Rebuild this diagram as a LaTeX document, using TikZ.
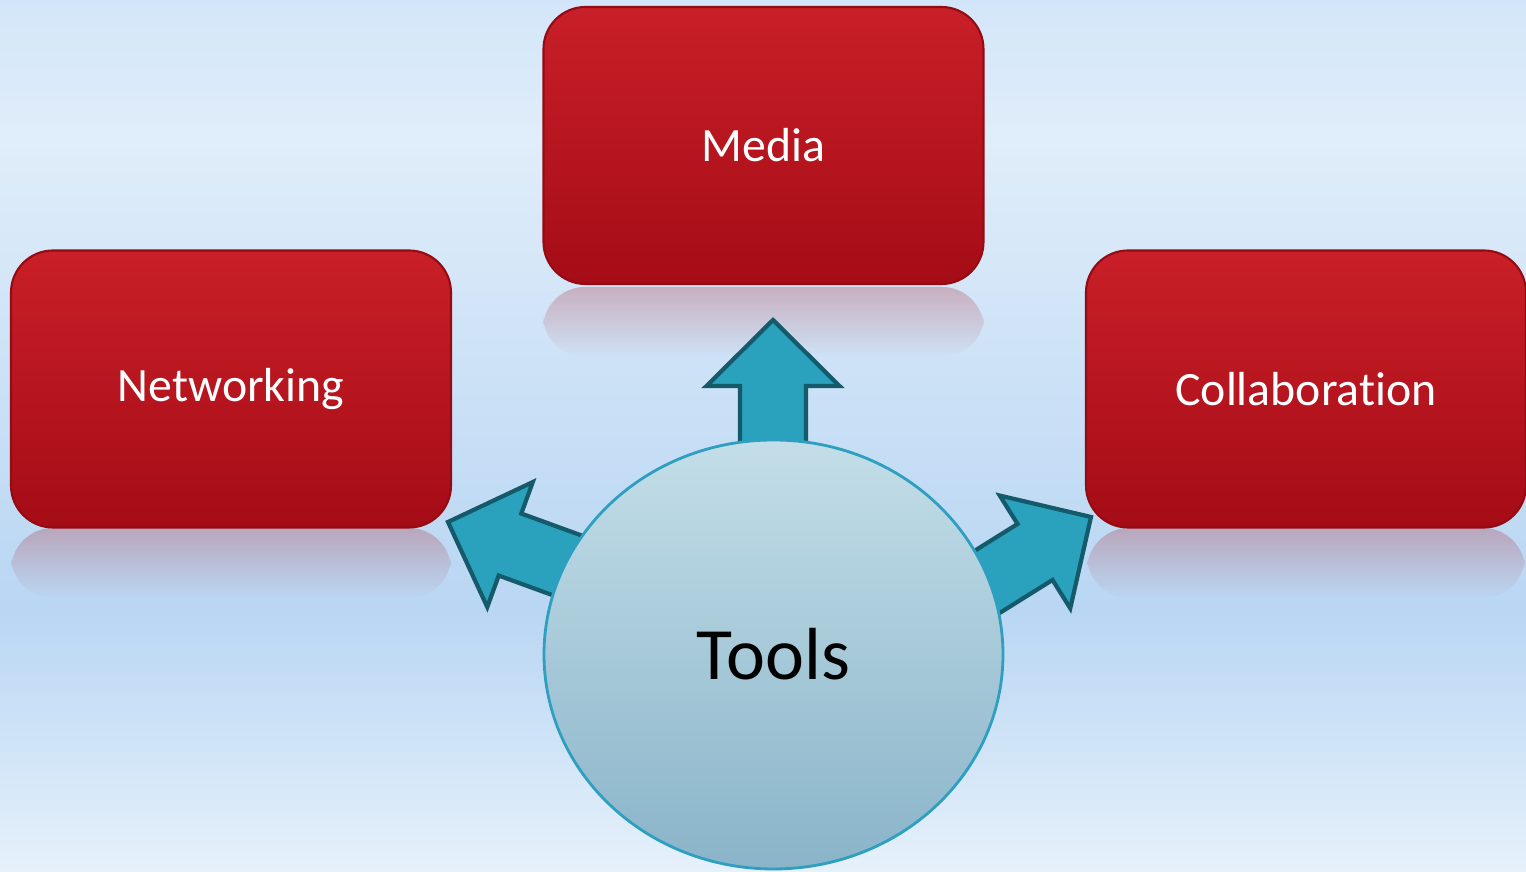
\documentclass[tikz,border=0pt]{standalone}
\usepackage{fontspec}
\setmainfont{Carlito}[Ligatures={NoCommon,NoContextual}]
\usetikzlibrary{shapes.geometric}
\usetikzlibrary{fadings}

\definecolor{bgLow}{HTML}{E6F1FB}
\definecolor{bgMid}{HTML}{B9D6F3}
\definecolor{bgHigh}{HTML}{E0EDFA}
\definecolor{bgTop}{HTML}{D3E6F9}
\definecolor{tileTop}{HTML}{C91F28}
\definecolor{tileBot}{HTML}{A50C16}
\definecolor{tileEdge}{HTML}{950B13}
\definecolor{arrFill}{HTML}{2AA2BE}
\definecolor{arrEdge}{HTML}{145A6B}
\definecolor{hubTop}{HTML}{C3DEE8}
\definecolor{hubBot}{HTML}{8AB4C9}
\definecolor{hubEdge}{HTML}{2E9FC0}

\pgfdeclareverticalshading{slidebg}{100bp}{color(0bp)=(bgLow); color(25bp)=(bgLow); color(40bp)=(bgMid); color(67bp)=(bgHigh); color(75bp)=(bgTop); color(100bp)=(bgTop)}
\tikzfading[name=reflfade, top color=transparent!75, bottom color=transparent!100]

\begin{document}
\begin{tikzpicture}
\tikzstyle{tileStyle}=[rectangle, rounded corners = 0.42cm, minimum width = 4.40cm, minimum height = 2.77cm, top color = tileTop, bottom color = tileBot, draw = tileEdge, line width = 0.6pt, text = white, font = \fontsize{13.6}{16}\selectfont]
\tikzstyle{reflStyle}=[rounded corners = 0.42cm, fill = tileBot, path fading = reflfade]
\tikzstyle{arrowStyle}=[fill = arrFill, draw = arrEdge, line width = 1.2pt, line join = miter]
\tikzstyle{hubStyle}=[ellipse, minimum width = 4.59cm, minimum height = 4.29cm, top color = hubTop, bottom color = hubBot, draw = hubEdge, line width = 0.8pt, font = \fontsize{21}{25}\selectfont]
\useasboundingbox (0,0) rectangle (15.26,8.72);
\fill[shading = slidebg] (0,0) rectangle (15.26,8.72);
% reflections
\fill[reflStyle] (5.43,5.85) rectangle (9.84,5.15);
\fill[reflStyle] (0.11,3.44) rectangle (4.51,2.74);
\fill[reflStyle] (10.87,3.44) rectangle (15.25,2.74);
% block arrows
\begin{scope}[shift = {(7.73,5.52)}, rotate = 90]
\draw[arrowStyle] (0,0) -- (-0.66,0.665) -- (-0.66,0.33) -- (-2.4,0.33) -- (-2.4,-0.33) -- (-0.66,-0.33) -- (-0.66,-0.665) -- cycle;
\end{scope}
\begin{scope}[shift = {(4.48,3.50)}, rotate = 160]
\draw[arrowStyle] (0,0) -- (-0.66,0.665) -- (-0.66,0.33) -- (-2.4,0.33) -- (-2.4,-0.33) -- (-0.66,-0.33) -- (-0.66,-0.665) -- cycle;
\end{scope}
\begin{scope}[shift = {(10.91,3.55)}, rotate = 32]
\draw[arrowStyle] (0,0) -- (-0.66,0.665) -- (-0.66,0.33) -- (-2.4,0.33) -- (-2.4,-0.33) -- (-0.66,-0.33) -- (-0.66,-0.665) -- cycle;
\end{scope}
% nodes
\node[hubStyle] (tools) at (7.735,2.175) {Tools};
\node[tileStyle] (media) at (7.635,7.265) {Media};
\node[tileStyle] (netw) at (2.31,4.83) {Networking};
\node[tileStyle] (collab) at (13.06,4.83) {Collaboration};
\end{tikzpicture}
\end{document}
